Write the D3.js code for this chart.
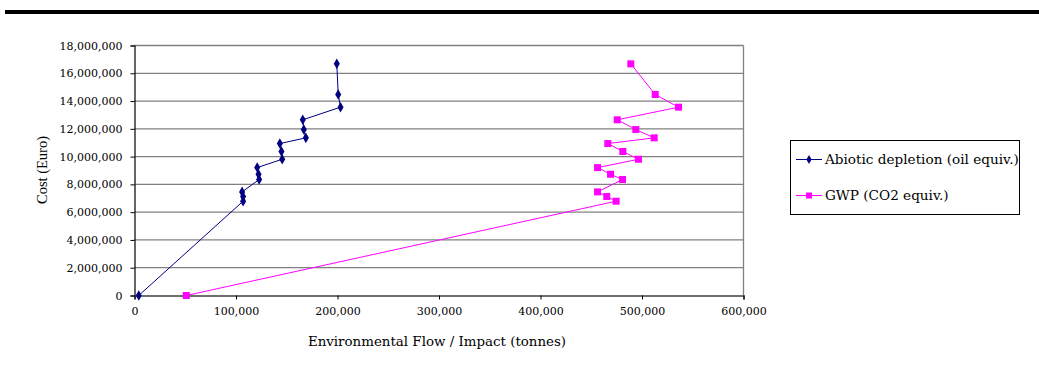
<!DOCTYPE html>
<html>
<head>
<meta charset="utf-8">
<script src="https://cdn.jsdelivr.net/npm/d3@7"></script>
<style>
  html, body { margin: 0; padding: 0; background: #fff; }
  svg { display: block; }
</style>
</head>
<body>
<svg id="chart" width="1039" height="367"></svg>
<script>
// ---- data ----
const cost = [0, 6790000, 7130000, 7460000, 8350000, 8730000, 9210000, 9810000,
              10370000, 10940000, 11350000, 11950000, 12650000, 13560000, 14470000, 16680000];
const abioticFlow = [4200, 107000, 107000, 106000, 122800, 122200, 120900, 145500,
                     144800, 143200, 168800, 166800, 165800, 203000, 200700, 199300];
const gwpFlow = [51000, 474500, 465300, 456200, 480800, 469000, 456200, 496500,
                 481100, 466300, 512000, 493900, 475600, 536000, 513000, 489000];
const seriesNames = ["Abiotic depletion (oil equiv.)", "GWP (CO2 equiv.)"];
const xTicks = [0, 100000, 200000, 300000, 400000, 500000, 600000];
const yTicks = [0, 2000000, 4000000, 6000000, 8000000, 10000000, 12000000, 14000000, 16000000, 18000000];
const xTitle = "Environmental Flow / Impact (tonnes)";
const yTitle = "Cost (Euro)";

const svg = d3.select("#chart");
const fmt = d3.format(",");
const tickFont = "DejaVu Serif";

// top rule
svg.append("rect").attr("x", 5).attr("y", 10).attr("width", 1034).attr("height", 4).attr("fill", "#000");

const x = d3.scaleLinear().domain([0, 600000]).range([134.5, 743.5]);
const y = d3.scaleLinear().domain([0, 18000000]).range([295.5, 45.5]);

// gridlines
svg.append("g").selectAll("line").data(yTicks.filter(d => d > 0)).join("line")
  .attr("x1", x(0)).attr("x2", x(600000))
  .attr("y1", d => y(d)).attr("y2", d => y(d))
  .attr("stroke", "#808080").attr("stroke-width", 1.3);
// right border
svg.append("line").attr("x1", x(600000)).attr("x2", x(600000))
  .attr("y1", y(18000000)).attr("y2", y(0)).attr("stroke", "#808080").attr("stroke-width", 1.3);

// axes
const yAxis = d3.axisLeft(y).tickValues(yTicks).tickFormat(fmt).tickSizeOuter(0).tickSize(4).tickPadding(8);
const gy = svg.append("g").attr("transform", `translate(${x(0)},0)`).call(yAxis);
const xAxis = d3.axisBottom(x).tickValues(xTicks).tickFormat(fmt).tickSizeOuter(0).tickSize(4).tickPadding(8);
const gx = svg.append("g").attr("transform", `translate(0,${y(0)})`).call(xAxis);
[gx, gy].forEach(g => {
  g.selectAll("text").attr("font-family", tickFont).attr("font-size", 11).attr("fill", "#000");
  g.selectAll("line").attr("stroke", "#000");
  g.select(".domain").attr("stroke", "#000").attr("stroke-width", 1.2);
});
gx.select(".domain").attr("stroke", "#404040").attr("stroke-width", 1.5);

// titles
svg.append("text").attr("x", 437).attr("y", 346).attr("text-anchor", "middle")
  .attr("font-family", tickFont).attr("font-size", 13.4).attr("fill", "#000").text(xTitle);
svg.append("text").attr("transform", `translate(47,170) rotate(-90)`).attr("text-anchor", "middle")
  .attr("font-family", "Liberation Serif").attr("font-size", 14.5).attr("fill", "#000").text(yTitle);

// series
const colors = ["#000080", "#FF00FF"];
const flows = [abioticFlow, gwpFlow];
const line = d3.line().x(d => x(d[0])).y(d => y(d[1]));
flows.forEach((fl, i) => {
  const pts = fl.map((v, j) => [v, cost[j]]);
  svg.append("path").datum(pts).attr("d", line).attr("fill", "none")
    .attr("stroke", colors[i]).attr("stroke-width", 1);
  if (i === 0) {
    svg.append("g").selectAll("path").data(pts).join("path")
      .attr("transform", d => `translate(${x(d[0])},${y(d[1])})`)
      .attr("d", d3.symbol().type(d3.symbolDiamond).size(32)).attr("fill", colors[i]);
  } else {
    svg.append("g").selectAll("rect").data(pts).join("rect")
      .attr("x", d => x(d[0]) - 3.5).attr("y", d => y(d[1]) - 3.5)
      .attr("width", 7).attr("height", 7).attr("fill", colors[i]);
  }
});

// legend
const lg = svg.append("g");
lg.append("rect").attr("x", 790.5).attr("y", 140.5).attr("width", 229).attr("height", 74)
  .attr("fill", "#fff").attr("stroke", "#000").attr("stroke-width", 1);
const ly = [159.5, 195.5];
seriesNames.forEach((n, i) => {
  lg.append("line").attr("x1", 796).attr("x2", 822).attr("y1", ly[i]).attr("y2", ly[i])
    .attr("stroke", colors[i]).attr("stroke-width", 1);
  if (i === 0) {
    lg.append("path").attr("transform", `translate(809,${ly[i]})`)
      .attr("d", d3.symbol().type(d3.symbolDiamond).size(24)).attr("fill", colors[i]);
  } else {
    lg.append("rect").attr("x", 806).attr("y", ly[i] - 3).attr("width", 6).attr("height", 6).attr("fill", colors[i]);
  }
  lg.append("text").attr("x", 825).attr("y", ly[i]).attr("dy", "0.35em")
    .attr("font-family", tickFont).attr("font-size", 13.6).attr("fill", "#000").text(n);
});
</script>
</body>
</html>
